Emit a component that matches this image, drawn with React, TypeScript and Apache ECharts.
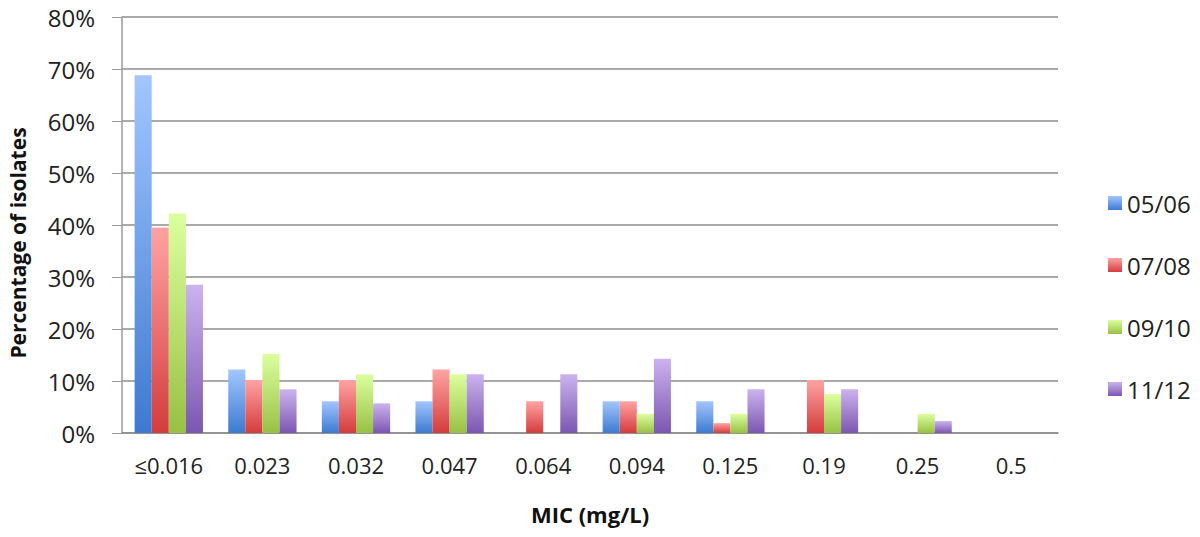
import React, { useEffect, useRef } from "react";
import * as echarts from "echarts";

const categories = ["≤0.016", "0.023", "0.032", "0.047", "0.064", "0.094", "0.125", "0.19", "0.25", "0.5"];
const seriesNames = ["05/06", "07/08", "09/10", "11/12"];
const s0506 = [68.8, 12.2, 6.1, 6.1, 0, 6.1, 6.1, 0, 0, 0];
const s0708 = [39.5, 10.2, 10.2, 12.2, 6.1, 6.1, 1.9, 10.2, 0, 0];
const s0910 = [42.2, 15.2, 11.3, 11.3, 0, 3.7, 3.7, 7.5, 3.7, 0];
const s1112 = [28.5, 8.4, 5.7, 11.3, 11.3, 14.3, 8.4, 8.4, 2.3, 0];
const yTicks = { min: 0, max: 80, interval: 10 };
const yTitle = "Percentage of isolates";
const xTitle = "MIC (mg/L)";

const gradients = [
  ["#a2c6ff", "#3d7ad0"],
  ["#ffa3a3", "#d43c3c"],
  ["#dcff9e", "#98c044"],
  ["#cbb3ee", "#7b57b0"],
];

const font = "'Open Sans', Lato, sans-serif";

export default function App() {
  const ref = useRef<HTMLDivElement>(null);
  useEffect(() => {
    document.body.style.margin = "0";
    const chart = echarts.init(ref.current!, null, { renderer: "svg" });
    const data = [s0506, s0708, s0910, s1112];
    chart.setOption({
      animation: false,
      backgroundColor: "#ffffff",
      textStyle: { fontFamily: font },
      grid: { left: 122, right: 142, top: 17, bottom: 104 },
      graphic: [
        {
          type: "text",
          x: 18,
          y: 243,
          rotation: Math.PI / 2,
          style: {
            text: yTitle,
            fontSize: 21,
            fontWeight: "bold",
            fill: "#111",
            fontFamily: font,
            align: "center",
            verticalAlign: "middle",
          },
        },
      ],
      legend: {
        orient: "vertical",
        left: 1103,
        top: 186,
        itemWidth: 14,
        itemHeight: 14,
        itemGap: 38,
        icon: "rect",
        textStyle: { fontSize: 24, color: "#222", fontFamily: font },
        data: seriesNames,
      },
      xAxis: {
        type: "category",
        data: categories,
        name: xTitle,
        nameLocation: "middle",
        nameGap: 70,
        nameTextStyle: { fontSize: 22, fontWeight: "bold", color: "#111", fontFamily: font },
        axisLine: { lineStyle: { color: "#8c8c8c", width: 1.5 } },
        axisTick: { show: false },
        axisLabel: { fontSize: 22, color: "#222", margin: 21, fontFamily: font },
      },
      yAxis: {
        type: "value",
        min: yTicks.min,
        max: yTicks.max,
        interval: yTicks.interval,
        axisLine: { show: true, lineStyle: { color: "#9a9a9a", width: 1.5 } },
        axisTick: { show: true, length: 10, lineStyle: { color: "#9a9a9a" } },
        axisLabel: { fontSize: 24, color: "#222", margin: 27, formatter: "{value}%", fontFamily: font },
        splitLine: { lineStyle: { color: "#8c8c8c", width: 1.5 } },
      },
      series: seriesNames.map((name, i) => ({
        name,
        type: "bar",
        data: data[i],
        barGap: "0%",
        barCategoryGap: "27%",
        itemStyle: {
          color: new echarts.graphic.LinearGradient(0, 0, 0, 1, [
            { offset: 0, color: gradients[i][0] },
            { offset: 1, color: gradients[i][1] },
          ]),
        },
      })),
    });
    return () => chart.dispose();
  }, []);
  return <div ref={ref} style={{ width: 1200, height: 537 }} />;
}
